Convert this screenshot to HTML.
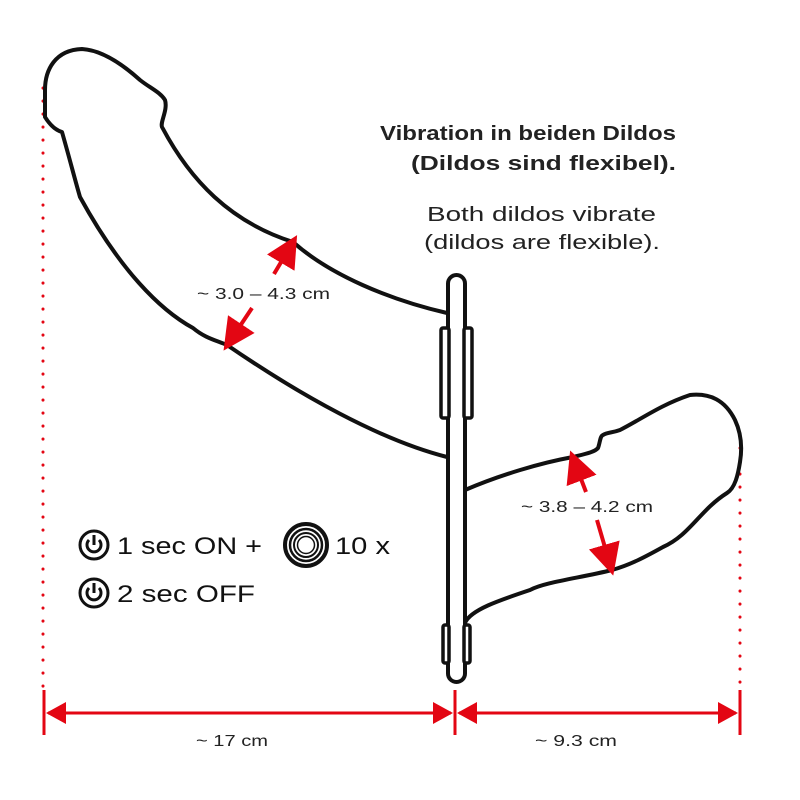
<!DOCTYPE html>
<html><head><meta charset="utf-8"><style>
html,body{margin:0;padding:0;background:#fff;}
svg{display:block;}
text{font-family:"Liberation Sans","DejaVu Sans",sans-serif;}
</style></head><body>
<svg width="800" height="800" viewBox="0 0 800 800" xmlns="http://www.w3.org/2000/svg">
<defs>
<marker id="ah" markerWidth="8" markerHeight="8" refX="6" refY="4" orient="auto" markerUnits="strokeWidth">
<path d="M0,0 L8,4 L0,8 Z" fill="#e30613"/></marker>
</defs>
<line x1="43" y1="88" x2="43" y2="690" stroke="#e30613" stroke-width="3" stroke-dasharray="0.1 12.9" stroke-linecap="round"/>
<line x1="740" y1="448" x2="740" y2="690" stroke="#e30613" stroke-width="3" stroke-dasharray="0.1 12.9" stroke-linecap="round"/>
<path d="M447,313 C390,300 330,275 293,242 C230,222 190,180 162,127 C160,122 168,110 165,100 C160,92 150,88 140,80 C120,62 100,50 82,49 C55,50 45,70 45,90 L45,117 C50,125 55,130 62,132 C70,160 75,180 80,197 C120,270 160,310 193,328 C205,338 215,340 227,345 C300,395 380,440 447,457" fill="none" stroke="#111" stroke-width="4" stroke-linejoin="round"/>
<path d="M465,490 C500,475 540,463 573,457 C585,454 595,452 598,448 C600,443 600,436 603,435 C608,432 612,433 620,430 C640,420 660,405 690,395 C710,393 725,400 735,420 C742,435 742,450 740,462 C738,475 735,488 727,493 C700,510 690,535 663,547 C645,557 630,565 612,570 C580,578 545,582 530,590 C500,600 470,610 465,623" fill="none" stroke="#111" stroke-width="4" stroke-linejoin="round"/>
<rect x="448" y="275" width="17" height="407" rx="8.5" fill="#fff" stroke="#111" stroke-width="4"/>
<rect x="441" y="328" width="8" height="90" rx="2" fill="#fff" stroke="#111" stroke-width="3.5"/>
<rect x="464" y="328" width="8" height="90" rx="2" fill="#fff" stroke="#111" stroke-width="3.5"/>
<rect x="443" y="625" width="6" height="38" rx="2" fill="#fff" stroke="#111" stroke-width="3.5"/>
<rect x="464" y="625" width="6" height="38" rx="2" fill="#fff" stroke="#111" stroke-width="3.5"/>
<line x1="274" y1="274" x2="293" y2="242" stroke="#e30613" stroke-width="4" marker-end="url(#ah)"/>
<line x1="252" y1="308" x2="228" y2="344" stroke="#e30613" stroke-width="4" marker-end="url(#ah)"/>
<text x="197" y="299" font-size="16" fill="#222" textLength="133" lengthAdjust="spacingAndGlyphs">~ 3.0 – 4.3 cm</text>
<line x1="586" y1="492" x2="573" y2="458" stroke="#e30613" stroke-width="4" marker-end="url(#ah)"/>
<line x1="597" y1="520" x2="611" y2="568" stroke="#e30613" stroke-width="4" marker-end="url(#ah)"/>
<text x="521" y="512" font-size="16" fill="#222" textLength="132" lengthAdjust="spacingAndGlyphs">~ 3.8 – 4.2 cm</text>
<g stroke="#e30613" stroke-width="3">
<line x1="44" y1="690" x2="44" y2="735"/>
<line x1="455" y1="690" x2="455" y2="735"/>
<line x1="740" y1="690" x2="740" y2="735"/>
<line x1="48" y1="713" x2="451" y2="713"/>
<line x1="459" y1="713" x2="736" y2="713"/>
</g>
<g fill="#e30613">
<path d="M46,713 L66,702 L66,724 Z"/>
<path d="M453,713 L433,702 L433,724 Z"/>
<path d="M457,713 L477,702 L477,724 Z"/>
<path d="M738,713 L718,702 L718,724 Z"/>
</g>
<text x="196" y="746" font-size="16" fill="#222" textLength="72" lengthAdjust="spacingAndGlyphs">~ 17 cm</text>
<text x="535" y="746" font-size="16" fill="#222" textLength="82" lengthAdjust="spacingAndGlyphs">~ 9.3 cm</text>
<text x="380" y="140" font-size="20" font-weight="bold" fill="#222" textLength="296" lengthAdjust="spacingAndGlyphs">Vibration in beiden Dildos</text>
<text x="411" y="170" font-size="20" font-weight="bold" fill="#222" textLength="265" lengthAdjust="spacingAndGlyphs">(Dildos sind flexibel).</text>
<text x="427" y="221" font-size="20" fill="#222" textLength="229" lengthAdjust="spacingAndGlyphs">Both dildos vibrate</text>
<text x="424" y="249" font-size="20" fill="#222" textLength="236" lengthAdjust="spacingAndGlyphs">(dildos are flexible).</text>
<g fill="none" stroke="#111" stroke-width="3">
<circle cx="94" cy="545" r="14"/>
<circle cx="94" cy="593" r="14"/>
<path d="M89,540 A7,7 0 1 0 99,540"/>
<line x1="94" y1="535" x2="94" y2="545"/>
<path d="M89,588 A7,7 0 1 0 99,588"/>
<line x1="94" y1="583" x2="94" y2="593"/>
<circle cx="306" cy="545" r="21" stroke-width="4"/>
<circle cx="306" cy="545" r="16" stroke-width="2.5"/>
<circle cx="306" cy="545" r="12" stroke-width="2"/>
<circle cx="306" cy="545" r="8.5" stroke-width="1.5"/>
</g>
<text x="117" y="554" font-size="24" fill="#111" textLength="145" lengthAdjust="spacingAndGlyphs">1 sec ON +</text>
<text x="335" y="554" font-size="24" fill="#111" textLength="55" lengthAdjust="spacingAndGlyphs">10 x</text>
<text x="117" y="602" font-size="24" fill="#111" textLength="138" lengthAdjust="spacingAndGlyphs">2 sec OFF</text>
</svg>
</body></html>
